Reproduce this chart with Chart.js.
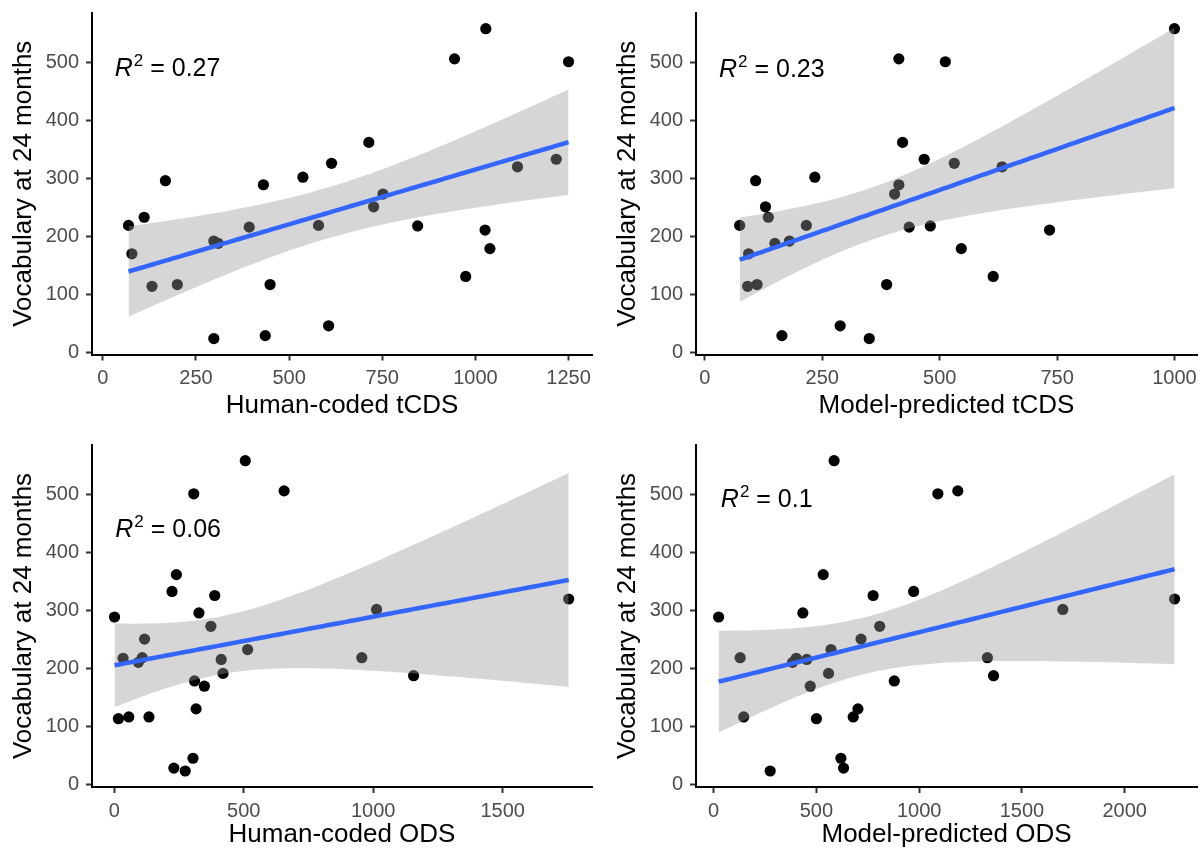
<!DOCTYPE html>
<html>
<head>
<meta charset="utf-8">
<title>Vocabulary at 24 months vs. CDS / ODS</title>
<script src="https://cdn.jsdelivr.net/npm/chart.js@4.4.1/dist/chart.umd.min.js"></script>
<style>
  html, body { margin: 0; padding: 0; background: #fff; }
  #grid { position: relative; width: 1201px; height: 850px; }
  #grid canvas { position: absolute; }
</style>
</head>
<body>
<div id="grid">
  <canvas id="humanTcdsChart" width="600" height="425" style="left:0;top:0"></canvas>
  <canvas id="modelTcdsChart" width="601" height="425" style="left:600px;top:0"></canvas>
  <canvas id="humanOdsChart" width="600" height="425" style="left:0;top:425px"></canvas>
  <canvas id="modelOdsChart" width="601" height="425" style="left:600px;top:425px"></canvas>
</div>
<script>
// Vocabulary at 24 months, one value per child (same children in every panel)
const vocab = [558, 506, 501, 362, 333, 326, 320, 302, 296, 289, 273, 251, 233, 219, 219,
               216, 218, 211, 192, 188, 179, 170, 131, 117, 117, 114, 46, 29, 24];

// Speech measures, same child order as vocab
const humanTcds = [1028, 944, 1250, 714, 1217, 614, 1113, 537, 168, 431, 752, 727, 111, 69, 579,
                   393, 845, 1026, 298, 310, 1039, 78, 974, 200, 449, 132, 606, 436, 298];
const modelTcds = [1000, 413, 512, 421, 467, 531, 633, 234, 108, 413, 404, 129, 135, 74, 216,
                   435, 480, 734, 180, 149, 546, 93, 614, 111, 387, 91, 288, 164, 350];
const humanOds = [506, 656, 307, 240, 223, 388, 1755, 1013, 327, 1, 373, 117, 515, 108, 956,
                  413, 34, 93, 420, 1156, 310, 348, 316, 134, 56, 16, 304, 230, 274];
const modelOds = [586, 1188, 1091, 533, 973, 776, 2243, 1699, 434, 24, 808, 717, 571, 129, 1332,
                  453, 402, 384, 559, 1362, 879, 470, 702, 679, 146, 500, 619, 632, 275];

// Axis ticks
const vocabTicks = [0, 100, 200, 300, 400, 500];
const tcdsHumanTicks = [0, 250, 500, 750, 1000, 1250];
const tcdsModelTicks = [0, 250, 500, 750, 1000];
const odsHumanTicks = [0, 500, 1000, 1500];
const odsModelTicks = [0, 500, 1000, 1500, 2000];

// R squared per panel
const r2Values = ["0.27", "0.23", "0.06", "0.1"];

const FONT = "'Liberation Sans', Arial, Helvetica, sans-serif";

// Ordinary least squares with a 95% confidence band, evaluated along the x range
function linearFit(xs, ys, steps = 80) {
  const n = xs.length;
  const mx = xs.reduce((s, v) => s + v, 0) / n;
  const my = ys.reduce((s, v) => s + v, 0) / n;
  let sxx = 0, sxy = 0;
  for (let i = 0; i < n; i++) {
    sxx += (xs[i] - mx) ** 2;
    sxy += (xs[i] - mx) * (ys[i] - my);
  }
  const b = sxy / sxx;
  const a = my - b * mx;
  let sse = 0;
  for (let i = 0; i < n; i++) sse += (ys[i] - (a + b * xs[i])) ** 2;
  const s = Math.sqrt(sse / (n - 2));
  const t = 2.0518; // t quantile 0.975, df = 27
  const lo = Math.min(...xs), hi = Math.max(...xs);
  const line = [], upper = [], lower = [];
  for (let i = 0; i < steps; i++) {
    const x = lo + (hi - lo) * i / (steps - 1);
    const y = a + b * x;
    const se = s * Math.sqrt(1 / n + (x - mx) ** 2 / sxx);
    line.push({ x, y });
    upper.push({ x, y: y + t * se });
    lower.push({ x, y: y - t * se });
  }
  return { line, upper, lower };
}

// Draws the "R² = ..." annotation inside the plot
const r2Label = {
  id: "r2Label",
  afterDatasetsDraw(chart, args, opts) {
    const { ctx, scales } = chart;
    const px = scales.x.getPixelForValue(opts.x);
    const py = scales.y.getPixelForValue(opts.y);
    ctx.save();
    ctx.fillStyle = "#000";
    ctx.textBaseline = "alphabetic";
    ctx.textAlign = "left";
    ctx.font = `italic 25px ${FONT}`;
    ctx.fillText("R", px, py);
    let w = ctx.measureText("R").width + 1;
    ctx.font = `17px ${FONT}`;
    ctx.fillText("2", px + w, py - 10);
    w += ctx.measureText("2").width;
    ctx.font = `25px ${FONT}`;
    ctx.fillText(" = " + opts.value, px + w, py);
    ctx.restore();
  },
};

function fixedTicks(list) {
  return (axis) => {
    axis.ticks = list.map((v) => ({ value: v }));
  };
}

// pin the axis box size and drop the label overhang padding so the plot area stays put
function fixedBox(prop, size) {
  return (scale) => {
    scale[prop] = size;
    scale.paddingTop = 0;
    scale.paddingBottom = 0;
    scale.paddingLeft = 0;
    scale.paddingRight = 0;
  };
}

function makePanel(canvasId, xs, cfg) {
  const fit = linearFit(xs, vocab);
  const points = xs.map((x, i) => ({ x, y: vocab[i] }));
  const ctx = document.getElementById(canvasId).getContext("2d");

  const axisCommon = {
    border: { display: true, color: "#000", width: 2 },
    grid: { drawOnChartArea: false, drawTicks: true, tickLength: 6, tickColor: "#333", tickWidth: 2 },
  };

  new Chart(ctx, {
    type: "scatter",
    data: {
      datasets: [
        {
          data: points,
          pointRadius: 5.6,
          pointBackgroundColor: "#000",
          pointBorderWidth: 0,
          order: 3,
        },
        {
          type: "line",
          data: fit.upper,
          borderColor: "transparent",
          borderWidth: 0,
          pointRadius: 0,
          backgroundColor: "rgba(153, 153, 153, 0.4)",
          fill: "+1",
          order: 2,
        },
        {
          type: "line",
          data: fit.lower,
          borderColor: "transparent",
          borderWidth: 0,
          pointRadius: 0,
          fill: false,
          order: 2,
        },
        {
          type: "line",
          data: fit.line,
          borderColor: "#3366FF",
          borderWidth: 4.5,
          pointRadius: 0,
          fill: false,
          order: 1,
        },
      ],
    },
    options: {
      responsive: false,
      animation: false,
      events: [],
      layout: { autoPadding: false, padding: { left: 0, top: cfg.top, right: cfg.right, bottom: 0 } },
      plugins: {
        legend: { display: false },
        tooltip: { enabled: false },
        r2Label: { x: cfg.labelX, y: cfg.labelY, value: cfg.r2 },
      },
      scales: {
        x: {
          ...axisCommon,
          type: "linear",
          min: cfg.xMin,
          max: cfg.xMax,
          afterBuildTicks: fixedTicks(cfg.xTicks),
          afterFit: fixedBox("height", cfg.xHeight),
          ticks: {
            color: "#4d4d4d",
            font: { family: FONT, size: 20 },
            padding: 6,
            autoSkip: false,
            maxRotation: 0,
            callback: (v) => String(v),
          },
          title: {
            display: true,
            text: cfg.xTitle,
            color: "#000",
            font: { family: FONT, size: 26 },
            padding: { top: 0, bottom: cfg.xTitlePad },
          },
        },
        y: {
          ...axisCommon,
          type: "linear",
          min: -3.5,
          max: 585,
          afterBuildTicks: fixedTicks(vocabTicks),
          afterFit: fixedBox("width", cfg.yWidth),
          ticks: {
            color: "#4d4d4d",
            font: { family: FONT, size: 20 },
            padding: 7,
            callback: (v) => String(v),
          },
          title: {
            display: true,
            text: "Vocabulary at 24 months",
            color: "#000",
            font: { family: FONT, size: 26 },
            padding: { top: cfg.yTitlePad, bottom: 0 },
          },
        },
      },
    },
    plugins: [r2Label],
  });
}

makePanel("humanTcdsChart", humanTcds, {
  xMin: -29, xMax: 1313, xTicks: tcdsHumanTicks, xTitle: "Human-coded tCDS",
  top: 13, right: 8, xHeight: 70.5, yWidth: 92, xTitlePad: 4, yTitlePad: 8,
  labelX: 32, labelY: 477, r2: r2Values[0],
});
makePanel("modelTcdsChart", modelTcds, {
  xMin: -19, xMax: 1048, xTicks: tcdsModelTicks, xTitle: "Model-predicted tCDS",
  top: 13, right: 4, xHeight: 70.5, yWidth: 96, xTitlePad: 4, yTitlePad: 12,
  labelX: 30, labelY: 475, r2: r2Values[1],
});
makePanel("humanOdsChart", humanOds, {
  xMin: -86, xMax: 1845, xTicks: odsHumanTicks, xTitle: "Human-coded ODS",
  top: 20, right: 8, xHeight: 63, yWidth: 92, xTitlePad: 0, yTitlePad: 8,
  labelX: 4, labelY: 427, r2: r2Values[2],
});
makePanel("modelOdsChart", modelOds, {
  xMin: -86, xMax: 2352, xTicks: odsModelTicks, xTitle: "Model-predicted ODS",
  top: 20, right: 4, xHeight: 63, yWidth: 96, xTitlePad: 0, yTitlePad: 12,
  labelX: 35, labelY: 479, r2: r2Values[3],
});
</script>
</body>
</html>
